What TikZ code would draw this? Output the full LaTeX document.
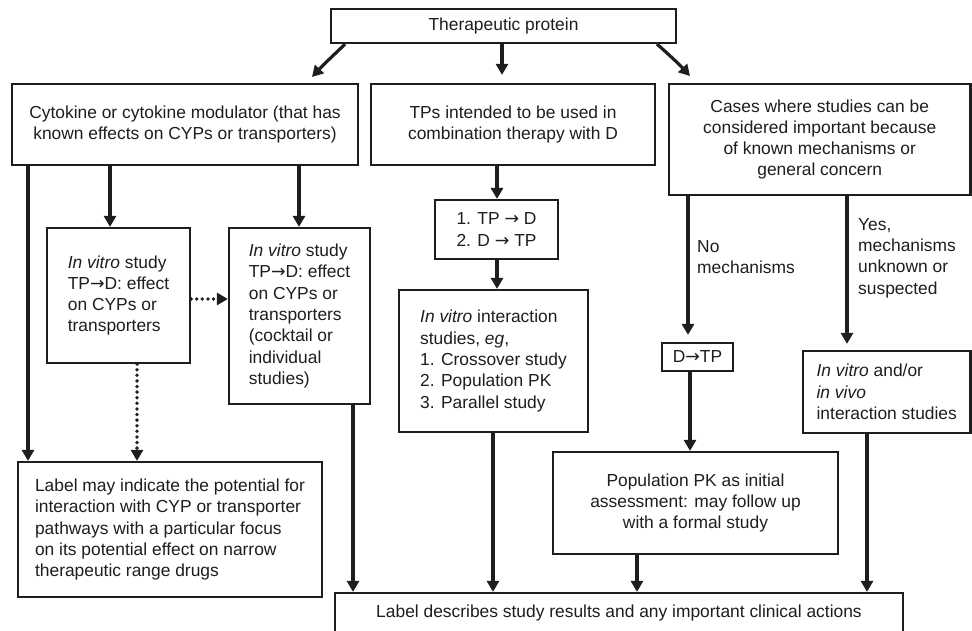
\documentclass[tikz,border=0pt]{standalone}
\usepackage{fontspec}
\setmainfont{Liberation Sans}
\newfontfamily\arrowfont{DejaVu Sans}
\usetikzlibrary{arrows.meta}
\definecolor{ink}{HTML}{1E1E1E}
\newcommand\boxfont{\fontsize{17.4}{21.3}\selectfont}
\newcommand\rarr{{\arrowfont →}}
\begin{document}
\begin{tikzpicture}[x=1pt,y=-1pt,
  box/.style={draw=ink, line width=2.2pt, inner sep=0pt, text=ink, font=\boxfont},
  arr/.style={draw=ink, line width=3.2pt, -{Triangle[length=11pt,width=12pt]}},
  dotarr/.style={draw=ink, line width=3.8pt, line cap=round, dash pattern=on 0pt off 5.6pt, -{Triangle[length=11pt,width=12pt]}},
  lbl/.style={inner sep=0pt, text=ink, font=\boxfont, align=left, anchor=west}]
\useasboundingbox (0,0) rectangle (972,631);
\fill[white] (0,0) rectangle (972,631);
\clip (0,0) rectangle (972,631);

% boxes
\node[box, minimum width=345, minimum height=34] (top) at (503.5,26) {Therapeutic protein};
\node[box, minimum width=346, minimum height=81, align=center] (cyto) at (185,124.5)
  {Cytokine or cytokine modulator (that has\\known effects on CYPs or transporters)};
\node[box, minimum width=284, minimum height=81, align=center] (tps) at (513,124.5)
  {TPs intended to be used in\\combination therapy with D};
\node[box, minimum width=301.5, minimum height=111, align=center] (cases) at (819.75,139.5)
  {Cases where studies can be\\considered important because\\of known mechanisms or\\general concern};
\node[box, minimum width=143, minimum height=135, align=left] (iv1) at (118.5,295.5)
  {\textit{In vitro} study\\TP\rarr D: effect\\on CYPs or\\transporters};
\node[box, minimum width=141, minimum height=176, align=left] (iv2) at (299.5,316)
  {\textit{In vitro} study\\TP\rarr D: effect\\on CYPs or\\transporters\\(cocktail or\\individual\\studies)};
\node[box, minimum width=123, minimum height=59, align=left] (tpd) at (496.5,229.5)
  {1. TP \rarr\ D\\2. D \rarr\ TP};
\node[box, minimum width=189, minimum height=142, align=left] (ivi) at (493.5,361)
  {\textit{In vitro} interaction\\studies, \textit{eg},\\1. Crossover study\\2. Population PK\\3. Parallel study};
\node[box, minimum width=304, minimum height=135, align=left] (label) at (170,529.5)
  {Label may indicate the potential for\\interaction with CYP or transporter\\pathways with a particular focus\\on its potential effect on narrow\\therapeutic range drugs};
\node[box, minimum width=71, minimum height=28] (dtp) at (697.5,357) {D\rarr TP};
\node[box, minimum width=285, minimum height=102, align=center] (pop) at (695.5,503)
  {Population PK as initial\\assessment: may follow up\\with a formal study};
\node[box, minimum width=167.5, minimum height=82, align=left] (ivv) at (886.75,392)
  {\textit{In vitro} and/or\\\textit{in vivo}\\interaction studies};
\node[box, minimum width=568, minimum height=40] (bot) at (619,613)
  {Label describes study results and any important clinical actions};

% edge labels
\node[lbl] (lno) at (697,257) {No\\mechanisms};
\node[lbl] (lyes) at (858,258) {Yes,\\mechanisms\\unknown or\\suspected};

% helper x positions
\foreach \n/\x in {a/345, b/502, c/657, d/28, e/110, f/299, g/137, h/353, i/497, j/493, k/688, l/690, m/637, n/847, o/867}
  \coordinate (x\n) at (\x,0);
\coordinate (t1) at (312,77);
\coordinate (t3) at (690,76);
\coordinate (y299) at (0,299);

% connectors
\draw[arr] (xa |- top.south) .. controls (336,53) and (326,62) .. (t1);
\draw[arr, shorten >=8pt] (xb |- top.south) -- (xb |- tps.north);
\draw[arr] (xc |- top.south) .. controls (667,53) and (678,63) .. (t3);
\draw[arr] (xd |- cyto.south) -- (xd |- label.north);
\draw[arr] (xe |- cyto.south) -- (xe |- iv1.north);
\draw[arr] (xf |- cyto.south) -- (xf |- iv2.north);
\draw[dotarr] (iv1.east |- y299) -- (iv2.west |- y299);
\draw[dotarr] (xg |- iv1.south) -- (xg |- label.north);
\draw[arr] (xh |- iv2.south) -- (xh |- bot.north);
\draw[arr] (xi |- tps.south) -- (xi |- tpd.north);
\draw[arr] (xi |- tpd.south) -- (xi |- ivi.north);
\draw[arr] (xj |- ivi.south) -- (xj |- bot.north);
\draw[arr, shorten >=7pt] (xk |- cases.south) -- (xk |- dtp.north);
\draw[arr] (xl |- dtp.south) -- (xl |- pop.north);
\draw[arr] (xm |- pop.south) -- (xm |- bot.north);
\draw[arr, shorten >=6pt] (xn |- cases.south) -- (xn |- ivv.north);
\draw[arr] (xo |- ivv.south) -- (xo |- bot.north);
\end{tikzpicture}
\end{document}
